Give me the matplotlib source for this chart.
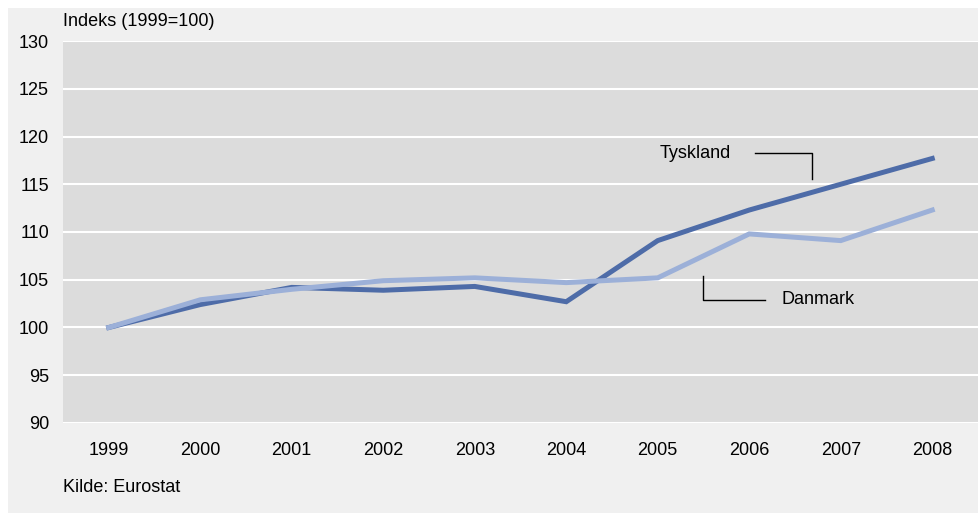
import numpy as np
import matplotlib
matplotlib.use("Agg")
from matplotlib import pyplot as plt
from matplotlib.patches import Rectangle

plt.rcParams['font.family'] = ['Liberation Sans', 'DejaVu Sans']

years = ['1999', '2000', '2001', '2002', '2003', '2004', '2005', '2006', '2007', '2008']
tyskland = [100.0, 102.4, 104.2, 103.9, 104.3, 102.7, 109.1, 112.3, 115.0, 117.7]
danmark = [100.0, 102.9, 104.0, 104.9, 105.2, 104.7, 105.2, 109.8, 109.1, 112.3]
y_ticks = [90, 95, 100, 105, 110, 115, 120, 125, 130]

col_de = '#4e6ca8'
col_dk = '#9cb0d8'
fs = 13

fig = plt.figure(figsize=(9.79, 5.13), dpi=100, facecolor='white')
# light gray panel behind everything, leaving a thin white border top/left
fig.patches.append(Rectangle((8 / 979, 0), 1, 1 - 8 / 513, transform=fig.transFigure,
                             facecolor='#f0f0f0', edgecolor='none', zorder=-10))

ax = fig.add_axes([63 / 979, 1 - 423 / 513, 915 / 979, 382 / 513])
ax.set_facecolor('#dcdcdc')

x = np.arange(len(years))
ax.plot(x, tyskland, color=col_de, lw=3.6, solid_joinstyle='miter', zorder=3)
ax.plot(x, danmark, color=col_dk, lw=3.6, solid_joinstyle='miter', zorder=4)

ax.set_xlim(-0.5, len(years) - 0.5)
ax.set_ylim(90, 130)
ax.set_yticks(y_ticks)
ax.set_xticks(x)
ax.set_xticklabels(years)
ax.grid(axis='y', color='white', lw=1.5)
ax.set_axisbelow(True)
for s in ax.spines.values():
    s.set_visible(False)
ax.tick_params(length=0, labelsize=fs, colors='black')
ax.tick_params(axis='y', pad=10)
ax.tick_params(axis='x', pad=14)

# callout labels
ax.text(6.02, 118.2, 'Tyskland', fontsize=fs, ha='left', va='center')
ax.plot([7.06, 7.69, 7.69], [118.3, 118.3, 115.6], color='black', lw=1.0, zorder=5)
ax.plot([6.49, 6.49, 7.17], [105.4, 102.9, 102.9], color='black', lw=1.0, zorder=5)
ax.text(7.35, 102.9, 'Danmark', fontsize=fs, ha='left', va='center')

fig.text(63 / 979, 1 - 22 / 513, 'Indeks (1999=100)', fontsize=fs, ha='left', va='center')
fig.text(63 / 979, 1 - 488 / 513, 'Kilde: Eurostat', fontsize=fs, ha='left', va='center')

fig.savefig('out.png', dpi=100, facecolor='white')
